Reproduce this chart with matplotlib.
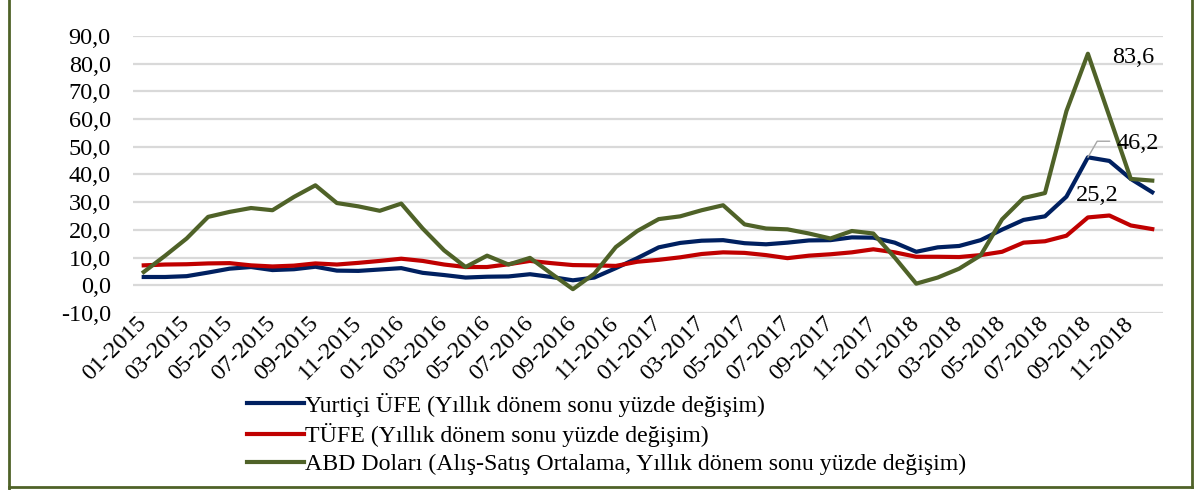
import numpy as np
import matplotlib
matplotlib.use("Agg")
import matplotlib.pyplot as plt
from matplotlib.lines import Line2D
from matplotlib.ticker import FuncFormatter

plt.rcParams['font.family'] = ['Liberation Serif', 'DejaVu Serif']

# months 01-2015 .. 12-2018
months = [f"{m:02d}-{y}" for y in range(2015, 2019) for m in range(1, 13)]

ufe = [3.0, 3.0, 3.3, 4.6, 6.0, 6.6, 5.5, 5.8, 6.7, 5.3, 5.2, 5.7,
       6.2, 4.5, 3.7, 2.8, 3.1, 3.2, 4.0, 3.0, 1.8, 2.8, 6.2, 9.8,
       13.7, 15.3, 16.1, 16.3, 15.2, 14.8, 15.4, 16.2, 16.3, 17.3, 17.2, 15.4,
       12.1, 13.7, 14.2, 16.3, 20.1, 23.6, 24.9, 32.0, 46.2, 44.9, 38.4, 33.6]

tufe = [7.2, 7.5, 7.6, 7.9, 8.0, 7.2, 6.8, 7.1, 7.9, 7.5, 8.1, 8.8,
        9.6, 8.8, 7.5, 6.6, 6.6, 7.6, 8.8, 8.0, 7.3, 7.2, 7.0, 8.5,
        9.2, 10.1, 11.3, 11.9, 11.7, 10.9, 9.8, 10.7, 11.2, 11.9, 13.0, 11.9,
        10.3, 10.3, 10.2, 10.9, 12.1, 15.4, 15.9, 17.9, 24.5, 25.2, 21.6, 20.3]

usd = [4.8, 10.7, 16.9, 24.7, 26.5, 27.9, 27.1, 31.9, 36.1, 29.7, 28.5, 26.9,
       29.5, 20.5, 12.6, 6.6, 10.7, 7.5, 9.9, 4.2, -1.4, 4.2, 13.8, 19.6,
       23.9, 24.9, 27.1, 28.9, 22.0, 20.5, 20.2, 18.7, 16.9, 19.6, 18.7, 10.0,
       0.6, 2.8, 6.0, 10.8, 23.8, 31.5, 33.3, 62.9, 83.6, 61.0, 38.4, 37.8]

labels = ["Yurtiçi ÜFE (Yıllık dönem sonu yüzde değişim)",
          "TÜFE (Yıllık dönem sonu yüzde değişim)",
          "ABD Doları (Alış-Satış Ortalama, Yıllık dönem sonu yüzde değişim)"]
colors = ["#002060", "#C00000", "#4F6228"]
fs = 17.5

fig = plt.figure(figsize=(12, 4.9), dpi=100)
ax = fig.add_axes([133 / 1200, 1 - 313 / 490, (1163 - 133) / 1200, (313 - 36) / 490])

x = np.arange(len(months))
lines = []
for series, c in zip([ufe, tufe, usd], colors):
    ln, = ax.plot(x, series, color=c, lw=3.0, solid_joinstyle='round', zorder=3)
    lines.append(ln)

ax.set_xlim(-0.5, len(months) - 0.5)
ax.set_ylim(-10, 90)
ax.set_yticks(np.arange(-10, 91, 10))
ax.yaxis.set_major_formatter(FuncFormatter(lambda v, p: f"{v:.1f}".replace('.', ',')))
ax.grid(axis='y', color='#D9D9D9', lw=1.6, zorder=0)
ax.set_axisbelow(True)
for s in ax.spines.values():
    s.set_visible(False)
ax.tick_params(axis='y', length=0, pad=16, labelsize=fs)
ax.set_xticks(x[::2])
ax.set_xticklabels(months[::2], rotation=45, ha='right', va='center',
                   rotation_mode='anchor', fontsize=fs)
ax.tick_params(axis='x', length=0, pad=5)

# data labels
ax.annotate("83,6", xy=(44, usd[44]), xytext=(45, -4), textcoords='offset pixels',
            ha='center', va='center', fontsize=fs)
ax.annotate("46,2", xy=(44, ufe[44]), xytext=(50, 14), textcoords='offset pixels',
            ha='center', va='center', fontsize=fs,
            arrowprops=dict(arrowstyle='-', color='#A6A6A6', lw=1, shrinkA=3, shrinkB=0,
                            relpos=(0, 0.6), connectionstyle='angle,angleA=0,angleB=60,rad=0'))
ax.annotate("25,2", xy=(45, tufe[45]), xytext=(-12, 9), textcoords='offset pixels',
            ha='center', va='bottom', fontsize=fs)

fig.legend(lines, labels, loc='upper left', bbox_to_anchor=(237 / 1200, 1 - 383 / 490),
           frameon=False, fontsize=17.2, handlelength=2.4, handletextpad=0.05,
           labelspacing=0.27, borderaxespad=0)

# outer frame
fc = "#4F6228"
fig.add_artist(Line2D([9 / 1200, 9 / 1200], [0, 1], color=fc, lw=2, transform=fig.transFigure))
fig.add_artist(Line2D([9 / 1200, 1192 / 1200], [3 / 490, 3 / 490], color=fc, lw=2, transform=fig.transFigure))
fig.add_artist(Line2D([1192 / 1200, 1192 / 1200], [3 / 490, 1], color=fc, lw=2, transform=fig.transFigure))

fig.savefig("out.png", dpi=100)
